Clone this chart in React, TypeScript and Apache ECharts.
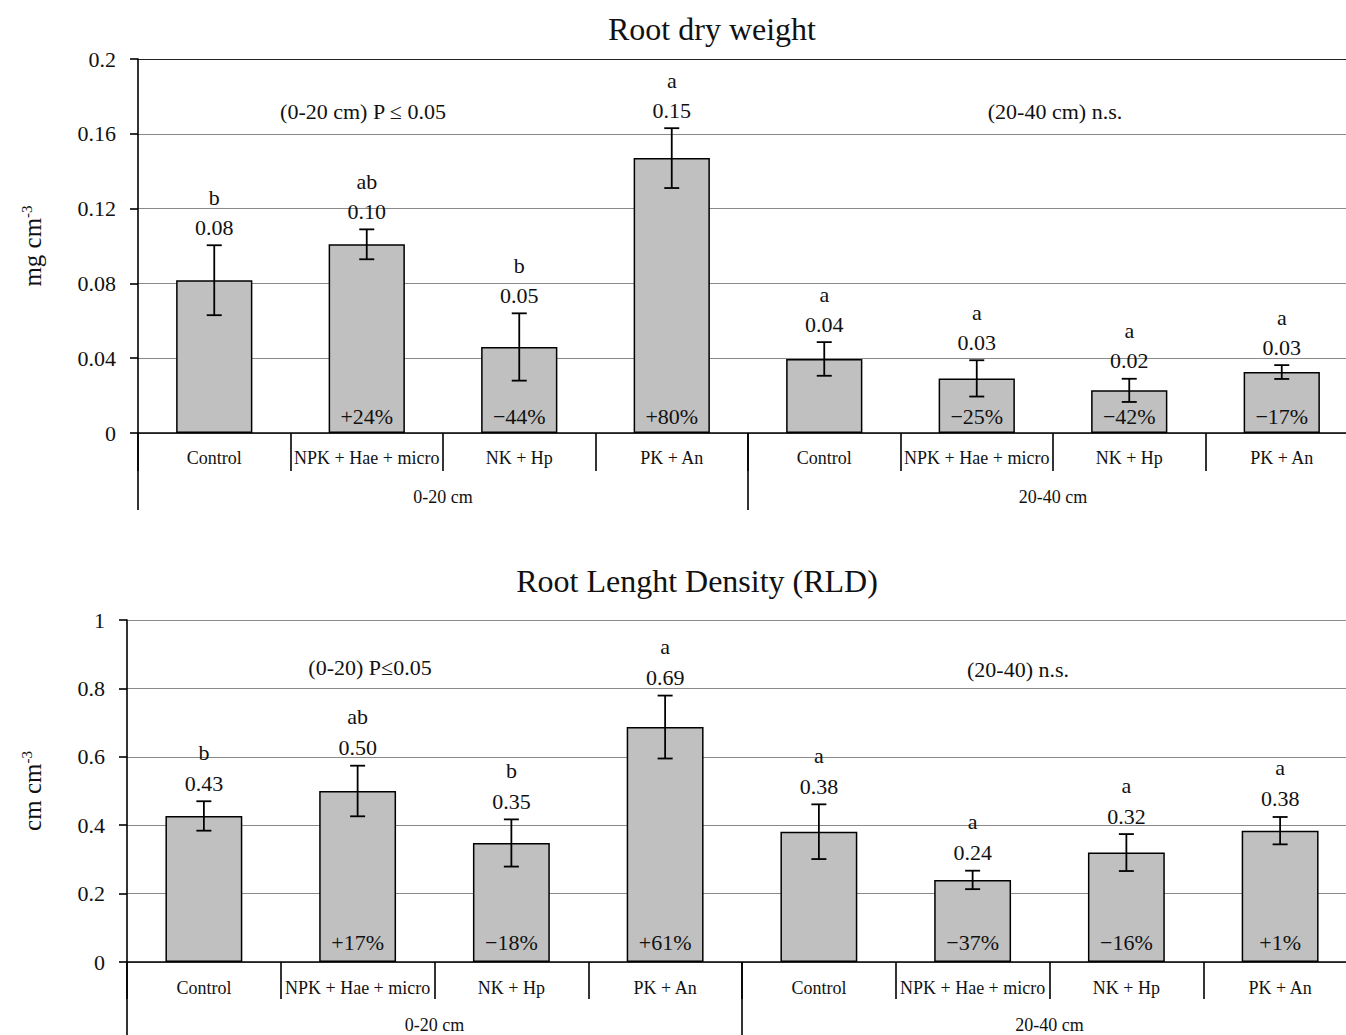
import React, { useEffect, useRef } from "react";
import * as echarts from "echarts";

const FONT = "'Liberation Serif', 'Times New Roman', serif";

const categories = ["Control", "NPK + Hae + micro", "NK + Hp", "PK + An", "Control", "NPK + Hae + micro", "NK + Hp", "PK + An"];
const depthGroups = ["0-20 cm", "20-40 cm"];

// Root dry weight (mg cm-3)
const rdwValues = [0.0817, 0.1009, 0.046, 0.147, 0.0396, 0.0292, 0.0228, 0.0326];
const rdwErrors = [0.0187, 0.008, 0.018, 0.016, 0.009, 0.0097, 0.0062, 0.0037];
const rdwLetters = ["b", "ab", "b", "a", "a", "a", "a", "a"];
const rdwPercents = ["", "+24%", "\u221244%", "+80%", "", "\u221225%", "\u221242%", "\u221217%"];

// Root length density (cm cm-3)
const rldValues = [0.427, 0.5, 0.348, 0.687, 0.381, 0.24, 0.32, 0.384];
const rldErrors = [0.043, 0.074, 0.069, 0.092, 0.08, 0.027, 0.054, 0.04];
const rldLetters = ["b", "ab", "b", "a", "a", "a", "a", "a"];
const rldPercents = ["", "+17%", "\u221218%", "+61%", "", "\u221237%", "\u221216%", "+1%"];

const rdwTicks = { min: 0, max: 0.2, interval: 0.04 };
const rldTicks = { min: 0, max: 1, interval: 0.2 };

function makeErrorSeries(values: number[], errors: number[], letters: string[], percents: string[], xIdx: number, yIdx: number, pctLift: number, letterLift: number) {
  return {
    type: "custom",
    xAxisIndex: xIdx,
    yAxisIndex: yIdx,
    z: 5,
    encode: { x: 0, y: 1 },
    data: values.map((v, i) => [i, v, errors[i]]),
    renderItem: (params: any, api: any) => {
      const i = api.value(0);
      const v = api.value(1);
      const e = api.value(2);
      const top = api.coord([i, v + e]);
      const bot = api.coord([i, v - e]);
      const base = api.coord([i, 0]);
      const x = top[0];
      const cap = 7.5;
      const lw = 1.8;
      const k = params.dataIndex;
      const valY = top[1] - 18;
      const txt = (text: string, y: number) => ({
        type: "text",
        x: x,
        y: y,
        style: {
          text,
          fill: "#111",
          fontSize: 22,
          fontFamily: FONT,
          align: "center",
          verticalAlign: "middle",
          textAlign: "center",
          textVerticalAlign: "middle",
        },
      });
      const children: any[] = [
        { type: "line", shape: { x1: x, y1: top[1], x2: x, y2: bot[1] }, style: { stroke: "#000", lineWidth: lw } },
        { type: "line", shape: { x1: x - cap, y1: top[1], x2: x + cap, y2: top[1] }, style: { stroke: "#000", lineWidth: lw } },
        { type: "line", shape: { x1: x - cap, y1: bot[1], x2: x + cap, y2: bot[1] }, style: { stroke: "#000", lineWidth: lw } },
        txt(v.toFixed(2), valY),
        txt(letters[k], valY - letterLift),
      ];
      if (percents[k]) children.push(txt(percents[k], base[1] - pctLift));
      return { type: "group", children };
    },
  };
}

const axisBlack = { color: "#000", width: 1.6 };

function catAxis(grid: number, len: number, margin: number) {
  return {
    type: "category",
    gridIndex: grid,
    data: categories,
    position: "bottom",
    boundaryGap: true,
    axisLine: { show: true, onZero: false, lineStyle: axisBlack },
    axisTick: { show: true, alignWithLabel: false, length: len, lineStyle: axisBlack },
    axisLabel: { show: true, interval: 0, margin, fontSize: 18, fontFamily: FONT, color: "#111" },
    splitLine: { show: false },
  };
}

function groupAxis(grid: number, len: number, margin: number) {
  return {
    type: "category",
    gridIndex: grid,
    data: depthGroups,
    position: "bottom",
    boundaryGap: true,
    axisLine: { show: false },
    axisTick: { show: true, alignWithLabel: false, length: len, lineStyle: axisBlack },
    axisLabel: { show: true, interval: 0, margin, fontSize: 18, fontFamily: FONT, color: "#111" },
    splitLine: { show: false },
  };
}

function valAxis(grid: number, ticks: any, name: string, nameGap: number, splitColors: string[]) {
  return {
    type: "value",
    gridIndex: grid,
    min: ticks.min,
    max: ticks.max,
    interval: ticks.interval,
    name,
    nameLocation: "middle",
    nameGap,
    nameTextStyle: {
      fontSize: 25,
      fontFamily: FONT,
      color: "#111",
      rich: {
        sup: { fontSize: 15, fontFamily: FONT, color: "#111", verticalAlign: "top", padding: [0, 0, 12, 0] },
      },
    },
    axisLine: { show: true, lineStyle: axisBlack },
    axisTick: { show: true, length: 8, inside: false, lineStyle: axisBlack },
    axisLabel: { margin: 22, fontSize: 22, fontFamily: FONT, color: "#111" },
    splitLine: { show: true, lineStyle: { color: splitColors, width: 1.2 } },
  };
}

function textEl(text: string, x: number, y: number, size: number) {
  return {
    type: "text",
    x,
    y,
    style: {
      text,
      fill: "#111",
      fontSize: size,
      fontFamily: FONT,
      align: "center",
      verticalAlign: "middle",
      textAlign: "center",
      textVerticalAlign: "middle",
    },
  };
}

export default function App() {
  const ref = useRef<HTMLDivElement>(null);
  useEffect(() => {
    if (!ref.current) return;
    const chart = echarts.init(ref.current, null, { renderer: "svg" });
    const barStyle = { color: "#c0c0c0", borderColor: "#000", borderWidth: 1.5 };
    const option: any = {
      animation: false,
      backgroundColor: "#fff",
      grid: [
        { left: 138, right: 0, top: 59, bottom: 602 },
        { left: 127, right: 1, top: 620, bottom: 73 },
      ],
      xAxis: [catAxis(0, 38, 16), groupAxis(0, 77, 55), catAxis(1, 37, 17), groupAxis(1, 80, 54)],
      yAxis: [
        valAxis(0, rdwTicks, "mg cm{sup|-3}", 92, ["#8a8a8a", "#8a8a8a", "#8a8a8a", "#8a8a8a", "#8a8a8a", "#222"]),
        valAxis(1, rldTicks, "cm cm{sup|-3}", 81, ["#8a8a8a"]),
      ],
      series: [
        { type: "bar", xAxisIndex: 0, yAxisIndex: 0, data: rdwValues, barWidth: "50%", itemStyle: barStyle, z: 2 },
        makeErrorSeries(rdwValues, rdwErrors, rdwLetters, rdwPercents, 0, 0, 17, 30),
        { type: "bar", xAxisIndex: 2, yAxisIndex: 1, data: rldValues, barWidth: "50%", itemStyle: barStyle, z: 2 },
        makeErrorSeries(rldValues, rldErrors, rldLetters, rldPercents, 2, 1, 20, 31),
      ],
      graphic: [
        textEl("Root dry weight", 712, 29, 32),
        textEl("(0-20 cm) P \u2264 0.05", 363, 111, 22),
        textEl("(20-40 cm) n.s.", 1055, 111, 22),
        textEl("Root Lenght Density (RLD)", 697, 581, 32),
        textEl("(0-20) P\u22640.05", 370, 667, 22),
        textEl("(20-40) n.s.", 1018, 669, 22),
      ],
    };
    chart.setOption(option);
    return () => chart.dispose();
  }, []);
  return (
    <div style={{ position: "absolute", left: 0, top: 0, width: 1346, height: 1035, overflow: "hidden", background: "#fff" }}>
      <div ref={ref} style={{ position: "absolute", left: 0, top: 0, width: 1358, height: 1035 }} />
    </div>
  );
}
